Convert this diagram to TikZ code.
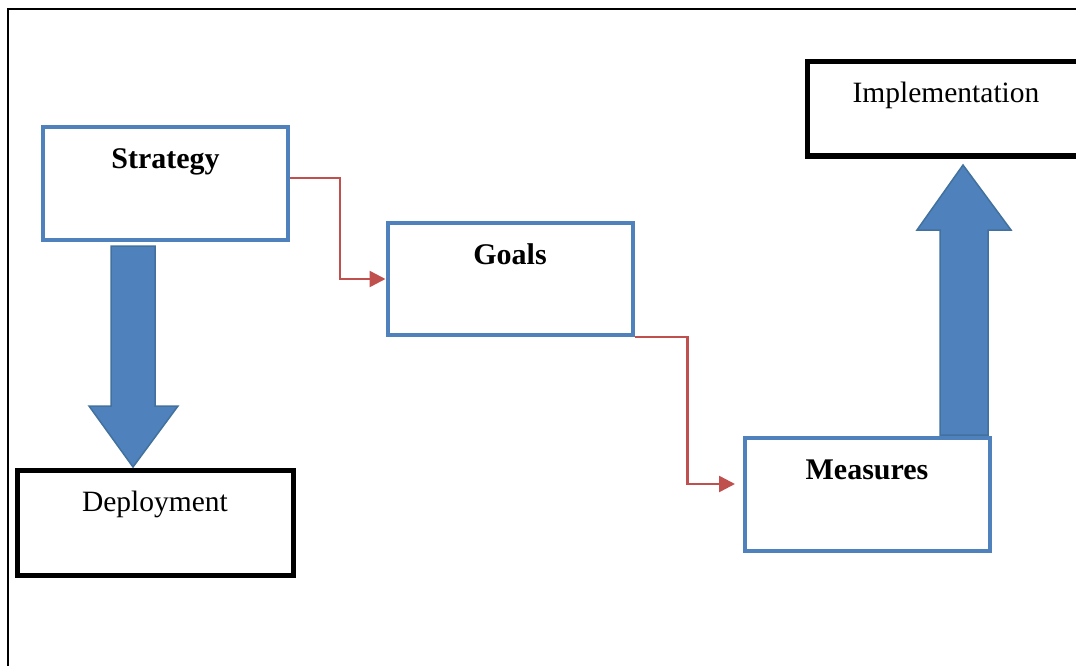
\documentclass[tikz,border=0pt]{standalone}
\usepackage{fontspec}
\setmainfont{Liberation Serif}
\usetikzlibrary{arrows.meta}

\definecolor{boxblue}{HTML}{4F81BD}
\definecolor{arrowblue}{HTML}{4F81BD}
\definecolor{arrowedge}{HTML}{41719C}
\definecolor{linkred}{HTML}{C0504D}

\begin{document}
\begin{tikzpicture}[x=1pt, y=-1pt,
    bluebox/.style={draw=boxblue, line width=4pt, minimum width=245pt, inner ysep=0pt,
      text height=41pt, font=\fontsize{30}{36}\selectfont\bfseries},
    blackbox/.style={draw=black, line width=5pt, inner ysep=0pt,
      text height=41pt, font=\fontsize{29.5}{36}\selectfont},
    link/.style={draw=linkred, line width=2.5pt, -{Triangle[length=16pt,width=16pt]}},
    bigarrow/.style={fill=arrowblue, draw=arrowedge, line width=1.5pt, line join=miter}]
   \useasboundingbox (0,0) rectangle (1076,666);
   \clip (0,0) rectangle (1076,666);

   % frame
   \draw[line width=2pt] (8,690) -- (8,9) -- (1090,9);

   \node[bluebox, text depth=72pt] (strategy) at (165.5,183.5) {Strategy};
   \node[bluebox, text depth=71pt] (goals) at (510,279) {Goals};
   \node[bluebox, text depth=72pt] (measures) at (867,494.5) {Measures};
   \node[blackbox, minimum width=276pt, text depth=64pt] (deployment) at (155,522.5) {Deployment};
   \node[blackbox, minimum width=278pt, text depth=53pt] (implementation) at (946,109) {Implementation};

   \draw[link] ([yshift=5.5pt]strategy.east) -- ++(50,0) |- (goals.west);
   \draw[link, shorten >=7.5pt] (goals.south east) -- ++(53,0) |- ([yshift=10.5pt]measures.west);

   % block arrows
   \draw[bigarrow] (111,246) -- (155,246) -- (155,406) -- (178,406) -- (133,467)
      -- (89,406) -- (111,406) -- cycle;
   \draw[bigarrow] (940,435) -- (988,435) -- (988,230) -- (1011,230) -- (963,165)
      -- (917,230) -- (940,230) -- cycle;
\end{tikzpicture}
\end{document}
